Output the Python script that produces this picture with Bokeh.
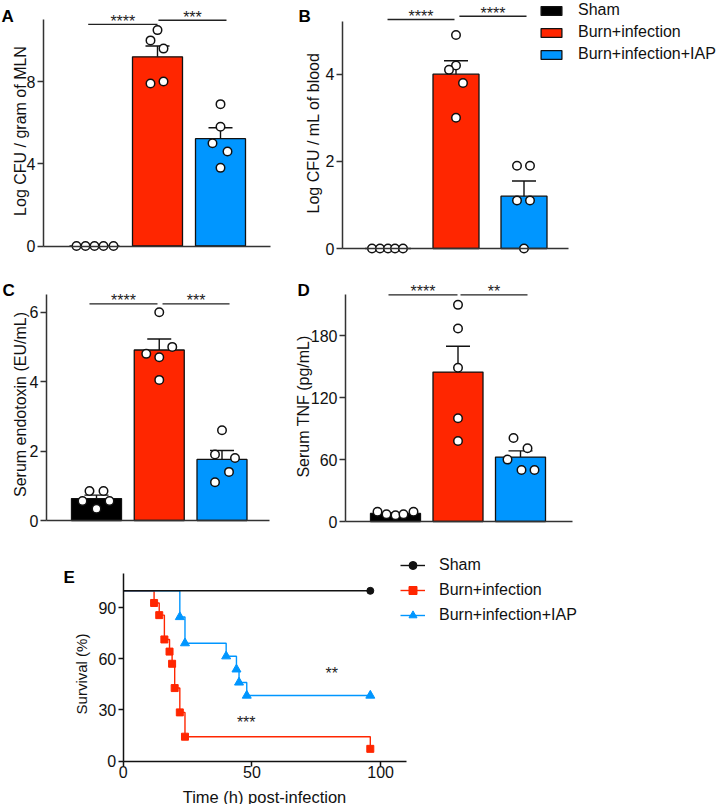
import numpy as np
from bokeh.plotting import figure
from bokeh.models import Range1d, FixedTicker, Label, Legend, LegendItem
from bokeh.layouts import column, row
from bokeh.embed import file_html
from bokeh.resources import INLINE
from bokeh.core.properties import value

FONT = "Liberation Sans"
AXIS_COLOR = "#333333"
PAGE = 0  # the bokeh page template has no body margin

# ---------------- data ----------------
groups = ["Sham", "Burn+infection", "Burn+infection+IAP"]
group_colors = ["#000000", "#FF2600", "#0096FF"]

# A: Log CFU / gram of MLN
a_sham = [0.0, 0.0, 0.0, 0.0, 0.0]
a_burn = [10.5, 10.0, 9.6, 7.9, 8.0]
a_iap = [6.9, 5.8, 5.0, 4.6, 3.8]
a_ticks = [0, 4, 8]
a_stars = ["****", "***"]

# B: Log CFU / mL of blood
b_sham = [0.0, 0.0, 0.0, 0.0, 0.0]
b_burn = [4.9, 4.2, 4.1, 3.8, 3.0]
b_iap = [1.9, 1.9, 1.1, 1.1, 0.0]
b_ticks = [0, 2, 4]
b_stars = ["****", "****"]

# C: Serum endotoxin (EU/mL)
c_sham = [0.85, 0.56, 0.34, 0.56, 0.85]
c_burn = [6.0, 5.0, 4.8, 4.7, 4.05]
c_iap = [2.6, 1.9, 1.8, 1.4, 1.1]
c_ticks = [0, 2, 4, 6]
c_stars = ["****", "***"]

# D: Serum TNF (pg/mL)
d_sham = [9.5, 7.0, 6.0, 7.0, 9.5]
d_burn = [210.0, 187.0, 149.0, 100.0, 78.0]
d_iap = [81.0, 71.0, 60.0, 50.0, 50.0]
d_ticks = [0, 60, 120, 180]
d_stars = ["****", "**"]

# E: survival
e_time_ticks = [0, 50, 100]
e_surv_ticks = [0, 30, 60, 90]
burn_n = 14
burn_times = [12, 14, 16, 18, 19, 20, 22, 24, 96]
burn_deaths = [1, 1, 2, 1, 1, 2, 2, 2, 1]
iap_n = 13
iap_times = [22, 24, 40, 44, 45, 48]
iap_deaths = [2, 2, 1, 1, 1, 1]
followup_end = 96
e_stars = ["**", "***"]

# ---------------- layout / style parameters ----------------
# point jitter in pixels per group
a_jit = [[-18, -9, 0, 9, 19], [0, -7, 6, -7, 6], [0, 0, -8, 7, 0]]
b_jit = [[-16, -8, 0, 7, 15], [0, 0, -7, 7, 0], [-7, 6, -7, 6, 0]]
c_jit = [[-7, -14, 0, 13, 7], [0, 13, -13, 0, 0], [0, -7, 13, 7, -7]]
d_jit = [[-18, -9, 0, 8, 18], [0, 0, 0, 0, 0], [-7, 7, -13, 1, 14]]


def rel(geom, X, Y):
    """page pixel -> frame-relative screen units (x right, y up)"""
    fx, fy, W, H = geom
    return X - (PAGE + fx), (PAGE + fy + H) - Y


def base_fig(geom, x0val, x0px, pxu, zpx, pyu):
    fx, fy, W, H = geom
    left = PAGE + fx
    top = PAGE + fy
    xs = x0val - (x0px - left) / pxu
    ye = (zpx - top) / pyu
    p = figure(width=W, height=H, output_backend="svg", toolbar_location=None, title=None,
               x_range=Range1d(xs, xs + W / pxu), y_range=Range1d(ye - H / pyu, ye),
               min_border=0, min_border_left=0, min_border_right=0,
               min_border_top=0, min_border_bottom=0)
    p.outline_line_color = None
    p.xgrid.visible = False
    p.ygrid.visible = False
    p.background_fill_color = "white"
    p.border_fill_color = "white"
    return p


def style_axis(ax, color, tick_out, show_ticks=True, standoff=2):
    ax.axis_line_color = color
    ax.axis_line_width = 1.5
    ax.major_tick_line_color = color if show_ticks else None
    ax.major_tick_line_width = 1.5
    ax.minor_tick_line_color = None
    ax.major_tick_in = 0
    ax.major_tick_out = tick_out
    ax.major_label_standoff = standoff
    ax.major_label_text_font = FONT
    ax.major_label_text_font_size = "16px" if show_ticks else "0px"
    ax.major_label_text_color = "#111111"


def make_bar_panel(vals, jit, stars, ticks, cfg):
    geom = cfg["geom"]
    pxu = cfg["pxu"]
    p = base_fig(geom, 1.0, cfg["c1"], pxu, cfg["Z"], cfg["pyu"])

    xs = [1, 2, 3]
    means = [float(np.mean(v)) for v in vals]
    sems = [float(np.std(v, ddof=1) / np.sqrt(len(v))) for v in vals]

    bars = p.vbar(x=xs, top=means, width=cfg["bw"] / pxu, bottom=0,
                  fill_color=group_colors, line_color="#111111", line_width=1.3)

    ex = [x for x, s in zip(xs, sems) if s > 0]
    em = [m for m, s in zip(means, sems) if s > 0]
    eu = [m + s for m, s in zip(means, sems) if s > 0]
    p.segment(x0=ex, y0=em, x1=ex, y1=eu, line_color="#111111", line_width=1.4)
    p.scatter(x=ex, y=eu, marker="dash", size=24, line_color="#111111", line_width=1.4)

    px, py = [], []
    for g, (v, j) in enumerate(zip(vals, jit)):
        for val, off in zip(v, j):
            px.append(xs[g] + off / pxu)
            py.append(val)
    p.scatter(x=px, y=py, marker="circle", size=8.5, fill_color="white",
              line_color="#111111", line_width=1.5)

    for (x0, x1, yb), s in zip(cfg["brackets"], stars):
        p.segment(x0=[x0], y0=[yb], x1=[x1], y1=[yb], line_color="#222222", line_width=1.3)
        p.text(x=[(x0 + x1) / 2], y=[yb], text=[s], text_font=value(FONT),
               text_font_size="16px", text_align="center", text_baseline="alphabetic",
               y_offset=-3, text_color="#222222")

    # axes drawn at fixed locations inside the frame
    p.yaxis.ticker = FixedTicker(ticks=ticks)
    p.yaxis.fixed_location = 1.0 + (cfg["ax"] - cfg["c1"]) / pxu
    p.yaxis.bounds = (0, cfg["ybound"])
    p.xaxis.ticker = FixedTicker(ticks=[])
    p.xaxis.fixed_location = 0
    p.xaxis.bounds = (1.0 + (cfg["ax"] - cfg["c1"]) / pxu, 1.0 + (cfg["axr"] - cfg["c1"]) / pxu)
    style_axis(p.yaxis[0], AXIS_COLOR, 6)
    style_axis(p.xaxis[0], AXIS_COLOR, 0, show_ticks=False)

    lx, ly = rel(geom, *cfg["ylab"])
    p.add_layout(Label(x=lx, y=ly, x_units="screen", y_units="screen",
                       text=cfg["ylabel"], angle=np.pi / 2, text_align="center",
                       text_baseline="alphabetic", text_font=FONT, text_font_size="16px",
                       text_color="#111111"))
    tx, ty = rel(geom, *cfg["let"])
    p.add_layout(Label(x=tx, y=ty, x_units="screen", y_units="screen",
                       text=cfg["letter"], text_align="left", text_baseline="alphabetic",
                       text_font=FONT, text_font_size="17px", text_font_style="bold",
                       text_color="#000000"))
    return p, bars


cfgA = dict(geom=(0, 0, 285, 270), c1=94, pxu=63.0, ax=43, axr=270, Z=245.5, pyu=20.56,
            bw=50, ybound=11.0,
            brackets=[(0.90, 2.00, 10.78), (2.015, 3.095, 10.98)],
            ylabel="Log CFU / gram of MLN", ylab=(19.8, 130.5), letter="A", let=(1, 15.5))
cfgB = dict(geom=(285, 0, 436, 270), c1=387.5, pxu=68.0, ax=342, axr=568, Z=248, pyu=43.575,
            bw=46, ybound=5.2,
            brackets=[(0.993, 1.978, 5.255), (2.05, 3.037, 5.33)],
            ylabel="Log CFU / mL of blood", ylab=(313.3, 132.5), letter="B", let=(298, 15.5))
cfgC = dict(geom=(0, 270, 285, 270), c1=96, pxu=62.75, ax=46, axr=269, Z=520, pyu=34.72,
            bw=50, ybound=6.5,
            brackets=[(0.888, 1.972, 6.24), (2.052, 3.12, 6.24)],
            ylabel="Serum endotoxin (EU/mL)", ylab=(19.8, 404), letter="C", let=(2, 290))
cfgD = dict(geom=(285, 270, 436, 270), c1=395, pxu=62.5, ax=345, axr=572, Z=521, pyu=1.0317,
            bw=50, ybound=220,
            brackets=[(0.888, 1.992, 219.7), (2.04, 3.112, 219.7)],
            ylabel="Serum TNF (pg/mL)", ylab=(303, 406), letter="D", let=(297, 290))

pA, _ = make_bar_panel([a_sham, a_burn, a_iap], a_jit, a_stars, a_ticks, cfgA)
pB, barsB = make_bar_panel([b_sham, b_burn, b_iap], b_jit, b_stars, b_ticks, cfgB)
pC, _ = make_bar_panel([c_sham, c_burn, c_iap], c_jit, c_stars, c_ticks, cfgC)
pD, _ = make_bar_panel([d_sham, d_burn, d_iap], d_jit, d_stars, d_ticks, cfgD)

legB_x, legB_y = rel(cfgB["geom"], 538, 0 + 64)
legB = Legend(items=[LegendItem(label=g, renderers=[barsB], index=i) for i, g in enumerate(groups)],
              location=(legB_x, legB_y), glyph_width=26, glyph_height=11, label_height=20,
              spacing=2, padding=0, margin=0, label_standoff=14,
              border_line_color=None, background_fill_alpha=0,
              label_text_font=FONT, label_text_font_size="16px", label_text_color="#111111")
pB.add_layout(legB)

# ---------------- panel E ----------------
geomE = (0, 540, 721, 264)
pE = base_fig(geomE, 0.0, 122.7, 2.574, 760.5, 187.2 / 110)


def km(n, deaths):
    return list(100.0 * (n - np.cumsum(deaths)) / n)


burn_s = km(burn_n, burn_deaths)
iap_s = km(iap_n, iap_deaths)
red, blue = group_colors[1], group_colors[2]

lb = pE.step(x=[0] + burn_times, y=[100.0] + burn_s, mode="after", line_color=red, line_width=1.4)
li = pE.step(x=[0] + iap_times + [followup_end], y=[100.0] + iap_s + [iap_s[-1]], mode="after",
             line_color=blue, line_width=1.4)
ls = pE.step(x=[0, followup_end], y=[100.0, 100.0], mode="after", line_color="#111111", line_width=1.4)
mb_ = pE.scatter(x=burn_times, y=burn_s, marker="square", size=7, color=red)
mi_ = pE.scatter(x=iap_times + [followup_end], y=iap_s + [iap_s[-1]], marker="triangle",
                 size=9, color=blue)
ms_ = pE.scatter(x=[followup_end], y=[100.0], marker="circle", size=7, color="#111111")

e_star_pos = [(81, 52.7), (47.8, 23.6)]
pE.text(x=[p[0] for p in e_star_pos], y=[p[1] for p in e_star_pos], text=e_stars,
        text_font=value(FONT), text_font_size="16px", text_align="center",
        text_baseline="alphabetic", y_offset=2, text_color="#222222")

pE.xaxis.ticker = FixedTicker(ticks=e_time_ticks)
pE.yaxis.ticker = FixedTicker(ticks=e_surv_ticks)
pE.xaxis.fixed_location = 0
pE.yaxis.fixed_location = 0
pE.xaxis.bounds = (0, 110)
pE.yaxis.bounds = (0, 110)
style_axis(pE.xaxis[0], "#111111", 5, standoff=0)
style_axis(pE.yaxis[0], "#111111", 5)

lx, ly = rel(geomE, 81, 673.5)
pE.add_layout(Label(x=lx, y=ly, x_units="screen", y_units="screen", text="Survival (%)",
                    angle=np.pi / 2, text_align="center", text_baseline="alphabetic",
                    text_font=FONT, text_font_size="15px", text_color="#111111"))
lx, ly = rel(geomE, 264, 796)
pE.add_layout(Label(x=lx, y=ly, x_units="screen", y_units="screen",
                    text="Time (h) post-infection", text_align="center",
                    text_baseline="alphabetic", text_font=FONT, text_font_size="16.5px",
                    text_color="#111111"))
lx, ly = rel(geomE, 63, 577)
pE.add_layout(Label(x=lx, y=ly, x_units="screen", y_units="screen", text="E",
                    text_align="left", text_baseline="alphabetic", text_font=FONT,
                    text_font_size="17px", text_font_style="bold", text_color="#000000"))

legE_x, legE_y = rel(geomE, 400, 625)
legE = Legend(items=[LegendItem(label=groups[0], renderers=[ls, ms_]),
                     LegendItem(label=groups[1], renderers=[lb, mb_]),
                     LegendItem(label=groups[2], renderers=[li, mi_])],
              location=(legE_x, legE_y), glyph_width=25, glyph_height=20, label_height=20,
              spacing=5, padding=0, margin=0, label_standoff=14,
              border_line_color=None, background_fill_alpha=0,
              label_text_font=FONT, label_text_font_size="16px", label_text_color="#111111")
pE.add_layout(legE)

layout = column(row(pA, pB), row(pC, pD), pE)
open("out.html", "w").write(file_html(layout, INLINE))
